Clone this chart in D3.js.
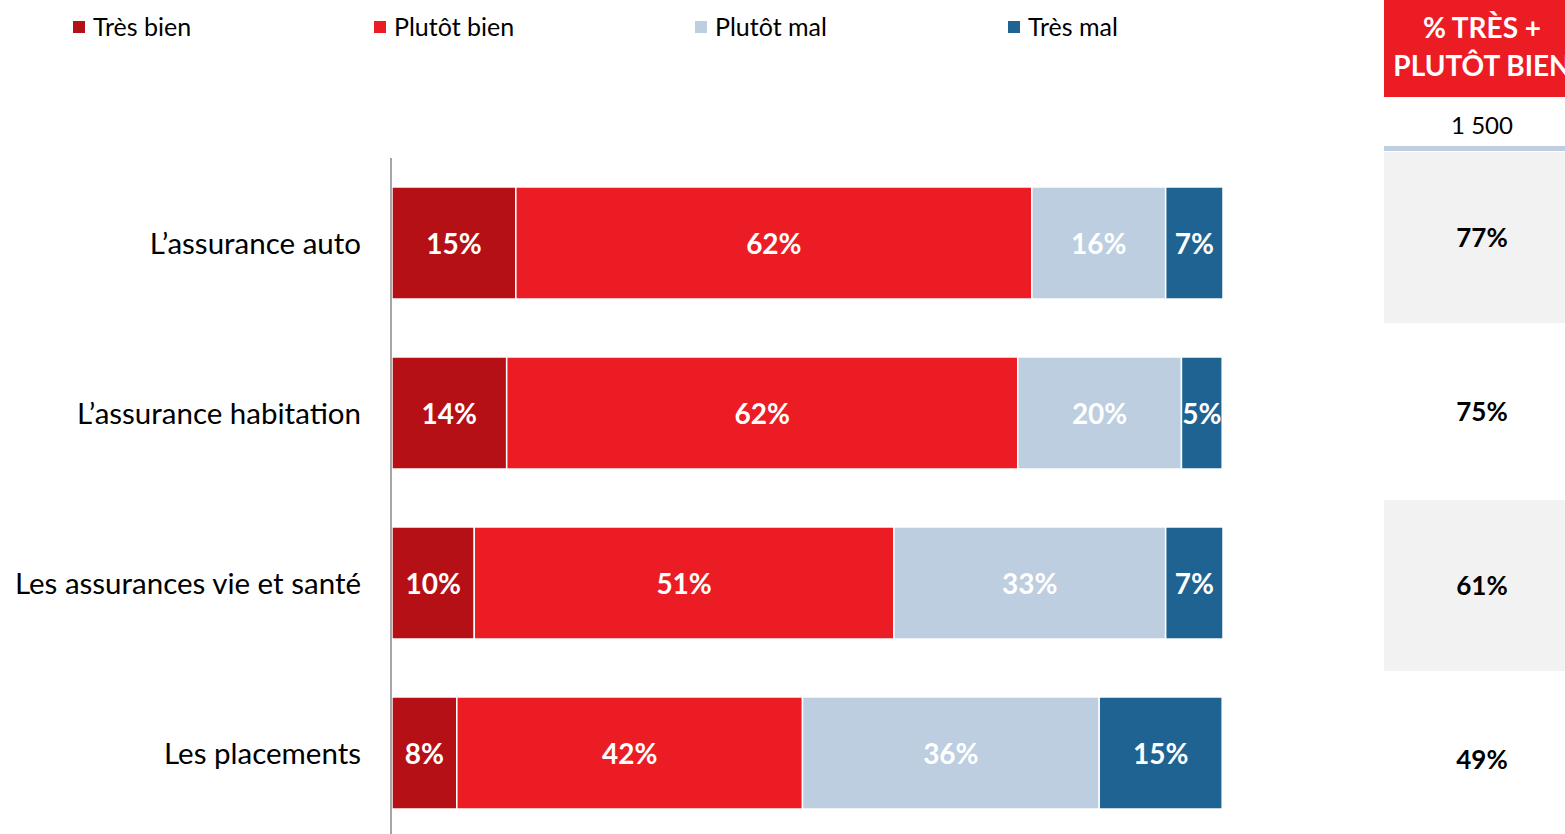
<!DOCTYPE html>
<html>
<head>
<meta charset="utf-8">
<script src="https://cdn.jsdelivr.net/npm/d3@7"></script>
<style>
  html, body { margin: 0; padding: 0; background: #fff; }
  svg { display: block; }
  text { font-family: Lato, "Open Sans", sans-serif; }
</style>
</head>
<body>
<svg id="chart" width="1565" height="834"></svg>
<script>
const categories = ["L\u2019assurance auto", "L\u2019assurance habitation", "Les assurances vie et sant\u00e9", "Les placements"];
const seriesNames = ["Tr\u00e8s bien", "Plut\u00f4t bien", "Plut\u00f4t mal", "Tr\u00e8s mal"];
const tresBien   = [14.9, 13.8, 9.9, 7.8];
const plutotBien = [62.1, 61.5, 50.5, 41.6];
const plutotMal  = [16.1, 19.7, 32.7, 35.7];
const tresMal    = [6.9, 4.9, 6.9, 14.8];
const labelsTresBien   = ["15%", "14%", "10%", "8%"];
const labelsPlutotBien = ["62%", "62%", "51%", "42%"];
const labelsPlutotMal  = ["16%", "20%", "33%", "36%"];
const labelsTresMal    = ["7%", "5%", "7%", "15%"];
const totalBien = ["77%", "75%", "61%", "49%"];
const headerLines = ["% TR\u00c8S +", "PLUT\u00d4T BIEN"];
const baseLabel = "1 500";
const colors = ["#B51016", "#EC1C24", "#BCCEDF", "#1F6392"];

const svg = d3.select("#chart");

const seriesValues = [tresBien, plutotBien, plutotMal, tresMal];
const seriesLabels = [labelsTresBien, labelsPlutotBien, labelsPlutotMal, labelsTresMal];
const keys = ["k0", "k1", "k2", "k3"];
const table = categories.map((c, i) => {
  const row = { cat: c };
  keys.forEach((k, j) => { row[k] = seriesValues[j][i]; row[k + "_lab"] = seriesLabels[j][i]; });
  return row;
});
const stacked = d3.stack().keys(keys)(table);

const x = d3.scaleLinear().domain([0, 100]).range([392, 1223]);
const y = d3.scaleBand().domain(categories).range([158, 838]).paddingInner(0.341).paddingOuter(0.1705);

// Right column backgrounds
const yr = d3.scaleBand().domain(categories).range([152, 848]);
svg.selectAll("rect.bg").data(categories.filter((d, i) => i % 2 === 0)).enter()
  .append("rect").attr("class", "bg")
  .attr("x", 1384).attr("width", 200)
  .attr("y", d => yr(d)).attr("height", yr.bandwidth() - 3)
  .attr("fill", "#F2F2F2");

// Bars
const groups = svg.selectAll("g.series").data(stacked).enter().append("g")
  .attr("fill", (d, i) => colors[i]);
groups.selectAll("rect").data(d => d.map(p => ({ p, key: d.key }))).enter().append("rect")
  .attr("x", d => x(d.p[0]))
  .attr("width", d => x(d.p[1]) - x(d.p[0]))
  .attr("y", d => y(d.p.data.cat))
  .attr("height", y.bandwidth())
  .attr("stroke", "#fff").attr("stroke-width", 1.5);

groups.selectAll("text").data(d => d.map(p => ({ p, key: d.key }))).enter().append("text")
  .attr("x", d => (x(d.p[0]) + x(d.p[1])) / 2)
  .attr("y", d => y(d.p.data.cat) + y.bandwidth() / 2 + 1)
  .attr("dy", "0.36em")
  .attr("text-anchor", "middle")
  .attr("fill", "#fff")
  .attr("font-weight", "bold")
  .attr("font-size", 28)
  .text(d => d.p.data[d.key + "_lab"]);

// Axis line
svg.append("line").attr("x1", 391).attr("x2", 391).attr("y1", 158).attr("y2", 834)
  .attr("stroke", "#A6A6A6").attr("stroke-width", 2);

// Category labels
svg.selectAll("text.cat").data(categories).enter().append("text").attr("class", "cat")
  .attr("x", 361)
  .attr("y", d => y(d) + y.bandwidth() / 2)
  .attr("dy", "0.36em")
  .attr("text-anchor", "end")
  .attr("font-size", 29.5)
  .attr("fill", "#000")
  .text(d => d);

// Legend
const legendX = [73, 374, 695, 1008];
const lg = svg.selectAll("g.legend").data(seriesNames).enter().append("g")
  .attr("transform", (d, i) => `translate(${legendX[i]},27)`);
lg.append("rect").attr("x", 0).attr("y", -6).attr("width", 12).attr("height", 12)
  .attr("fill", (d, i) => colors[i]);
lg.append("text").attr("x", 20).attr("dy", "0.36em").attr("font-size", 25).attr("fill", "#000")
  .text(d => d);

// Header box
svg.append("rect").attr("x", 1384).attr("y", 0).attr("width", 200).attr("height", 97).attr("fill", "#EC1C24");
svg.selectAll("text.hdr").data(headerLines).enter().append("text").attr("class", "hdr")
  .attr("x", 1482).attr("y", (d, i) => 28 + i * 38).attr("dy", "0.36em")
  .attr("text-anchor", "middle").attr("fill", "#fff").attr("font-weight", "bold").attr("font-size", 28)
  .text(d => d);
svg.append("text").attr("x", 1482).attr("y", 125).attr("dy", "0.36em").attr("text-anchor", "middle")
  .attr("font-size", 24).attr("fill", "#000").text(baseLabel);
svg.append("rect").attr("x", 1384).attr("y", 146).attr("width", 200).attr("height", 5).attr("fill", "#BCCEDF");

// Totals
svg.selectAll("text.tot").data(categories).enter().append("text").attr("class", "tot")
  .attr("x", 1482)
  .attr("y", d => yr(d) + yr.bandwidth() / 2 - 1)
  .attr("dy", "0.36em")
  .attr("text-anchor", "middle").attr("font-weight", "bold").attr("font-size", 26).attr("fill", "#000")
  .text((d, i) => totalBien[i]);
</script>
</body>
</html>
